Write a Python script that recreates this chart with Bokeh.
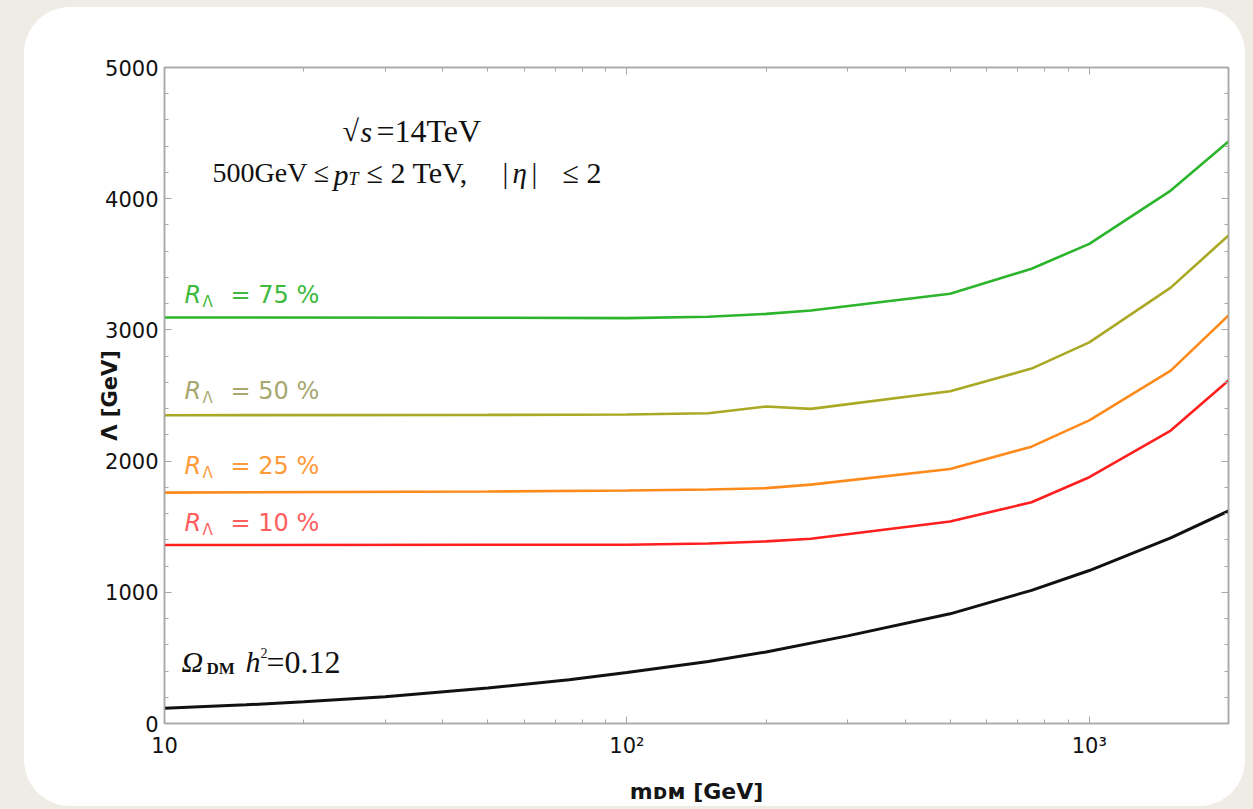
import math
from bokeh.plotting import figure
from bokeh.layouts import column
from bokeh.models import FixedTicker, Label, LinearAxis, LogAxis, Range1d
from bokeh.embed import file_html
from bokeh.resources import INLINE

# Dark-matter mass grid and reach on the cutoff scale Lambda [GeV]
mass_relic = [10, 15, 20, 30, 50, 75, 100, 150, 200, 300, 500, 750, 1000, 1500, 2000]
lambda_relic = [116, 142, 165, 203, 270, 333, 389, 472, 545, 668, 836, 1015, 1166, 1415, 1620]

mass_reach = [10, 50, 100, 150, 200, 250, 500, 750, 1000, 1500, 2000]
lambda_r10 = [1360, 1362, 1362, 1372, 1388, 1408, 1540, 1686, 1877, 2233, 2614]
lambda_r25 = [1760, 1768, 1776, 1783, 1794, 1821, 1940, 2110, 2310, 2690, 3110]
lambda_r50 = [2350, 2352, 2355, 2365, 2416, 2398, 2533, 2705, 2905, 3322, 3720]
lambda_r75 = [3095, 3093, 3090, 3100, 3122, 3148, 3275, 3466, 3656, 4062, 4436]

reach_series = [
    ("75", lambda_r75, "#2cb52c", "#3dba3d"),
    ("50", lambda_r50, "#a9a925", "#a8a870"),
    ("25", lambda_r25, "#ff8a1c", "#ff9a3a"),
    ("10", lambda_r10, "#ff1f1f", "#ff5e5e"),
]

x_major = [10, 100, 1000]
x_minor = [20, 30, 40, 50, 60, 70, 80, 90, 200, 300, 400, 500, 600, 700, 800, 900, 2000]
x_labels = {10: "10", 100: "10²", 1000: "10³"}
y_major = [0, 1000, 2000, 3000, 4000, 5000]
y_minor = list(range(0, 5001, 200))

X_MIN, X_MAX, Y_MIN, Y_MAX = 10, 2000, 0, 5000

p = figure(width=1221, height=799, x_axis_type="log",
           x_range=Range1d(X_MIN, X_MAX), y_range=Range1d(Y_MIN, Y_MAX),
           output_backend="svg", toolbar_location=None,
           min_border_left=140, min_border_right=17, min_border_top=60, min_border_bottom=83)
p.margin = (7, 8, 3, 24)
p.styles = {"border-radius": "46px", "overflow": "hidden", "background-color": "white"}
p.border_fill_color = None
p.background_fill_color = "white"
p.outline_line_color = "#a8a8a8"
p.outline_line_width = 1.5
p.xgrid.visible = False
p.ygrid.visible = False

AX = "#a8a8a8"


def style_axis(ax, show_labels):
    ax.axis_line_color = AX
    ax.axis_line_width = 1.5
    ax.major_tick_line_color = AX
    ax.minor_tick_line_color = AX
    ax.major_tick_in = 7
    ax.major_tick_out = 0
    ax.minor_tick_in = 4
    ax.minor_tick_out = 0
    ax.major_label_text_font = "DejaVu Sans"
    ax.major_label_text_color = "#111111"
    if show_labels:
        ax.major_label_text_font_size = "21px"
    else:
        ax.major_label_text_font_size = "0px"
        ax.major_label_standoff = 0


p.xaxis.ticker = FixedTicker(ticks=x_major, minor_ticks=x_minor)
p.xaxis.major_label_overrides = x_labels
p.xaxis.major_label_standoff = 10
p.yaxis.ticker = FixedTicker(ticks=y_major, minor_ticks=y_minor)
p.yaxis.major_label_overrides = {v: str(v) for v in y_major}
p.yaxis.major_label_standoff = 6
style_axis(p.xaxis[0], True)
style_axis(p.yaxis[0], True)

# axis titles
p.xaxis.axis_label = "mᴅᴍ [GeV]"
p.xaxis.axis_label_text_font = "DejaVu Sans"
p.xaxis.axis_label_text_font_size = "22px"
p.xaxis.axis_label_text_font_style = "bold"
p.xaxis.axis_label_text_color = "#151515"
p.xaxis.axis_label_standoff = 18
p.yaxis.axis_label = "Λ [GeV]"
p.yaxis.axis_label_text_font = "DejaVu Sans"
p.yaxis.axis_label_text_font_size = "21px"
p.yaxis.axis_label_text_font_style = "bold"
p.yaxis.axis_label_text_color = "#151515"
p.yaxis.axis_label_standoff = -20

top_axis = LogAxis(ticker=FixedTicker(ticks=x_major, minor_ticks=x_minor))
style_axis(top_axis, False)
top_axis.major_label_overrides = {v: "" for v in x_major}
p.add_layout(top_axis, "above")
right_axis = LinearAxis(ticker=FixedTicker(ticks=y_major, minor_ticks=y_minor))
style_axis(right_axis, False)
right_axis.major_label_overrides = {v: "" for v in y_major}
p.add_layout(right_axis, "right")

# curves
p.line(mass_relic, lambda_relic, line_color="#111111", line_width=3)
for _, vals, col, _ in reach_series:
    p.line(mass_reach, vals, line_color=col, line_width=2.6)

# page-pixel helpers for placing annotations inside the frame
FL, FR, FT, FB = 164, 1228, 67, 723


def dx(px):
    lo, hi = math.log10(X_MIN), math.log10(X_MAX)
    return 10 ** (lo + (px - FL) / (FR - FL) * (hi - lo))


def dy(py):
    return Y_MIN + (FB - py) / (FB - FT) * (Y_MAX - Y_MIN)


def put(px, py, text, size, color="#111111", font="Liberation Serif", style="normal",
        align="left", angle=0.0):
    p.add_layout(Label(x=dx(px), y=dy(py), text=text, text_font=font,
                       text_font_size=f"{size}px", text_color=color, text_font_style=style,
                       text_align=align, text_baseline="middle", angle=angle))


# collider setup
put(342, 130, "√", 30)
put(360, 131, "s", 30, style="italic")
put(376, 130, "=14TeV", 32)
put(212, 172, "500GeV ≤", 28)
put(333, 174, "p", 30, style="italic")
put(348, 178, "T", 18, style="italic")
put(366, 172, "≤ 2 TeV,", 30)
put(502, 172, "|", 29)
put(512, 172, "η", 29, style="italic")
put(531, 172, "|", 29)
put(562, 172, "≤  2", 30)

# reach labels
label_rows = {"75": 294, "50": 390, "25": 465, "10": 522}
for pct, _, _, tcol in reach_series:
    yy = label_rows[pct]
    put(184, yy, "R", 24, color=tcol, font="DejaVu Sans", style="italic")
    put(202, yy + 7, "Λ", 15, color=tcol, font="DejaVu Sans")
    put(230, yy, f"= {pct} %", 24, color=tcol, font="DejaVu Sans")

# relic density curve label
put(181, 661, "Ω", 30, style="italic")
put(206, 668, "DM", 17, style="bold")
put(245, 661, "h", 30, style="italic")
put(260, 652, "2", 14)
put(266, 661, "=0.12", 32)

page = column(p, width=1253, height=809, styles={"background-color": "#efece6"})

with open("out.html", "w") as f:
    f.write(file_html(page, INLINE))
